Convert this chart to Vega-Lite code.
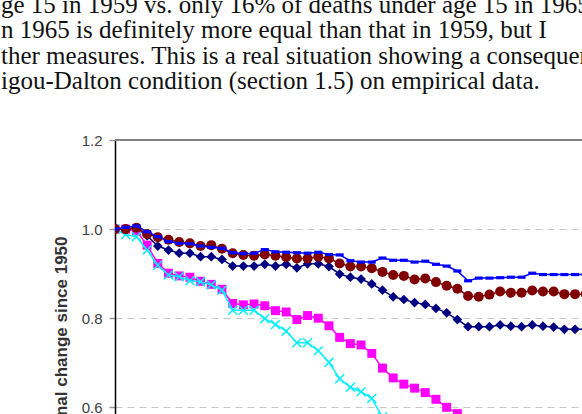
{
  "$schema": "https://vega.github.io/schema/vega-lite/v6.json",
  "width": 467,
  "height": 274,
  "autosize": {"type": "none"},
  "padding": {"left": 115, "top": 140, "right": 0, "bottom": 0},
  "background": "white",
  "title": {
    "text": [
      "ge 15 in 1959 vs. only 16% of deaths under age 15 in 1965",
      "n 1965 is definitely more equal than that in 1959, but I",
      "ther measures. This is a real situation showing a consequence of",
      "igou-Dalton condition (section 1.5) on empirical data."
    ],
    "orient": "top",
    "anchor": "start",
    "frame": "group",
    "font": "Liberation Serif",
    "fontSize": 25,
    "fontWeight": "normal",
    "color": "#111111",
    "lineHeight": 25.5,
    "baseline": "alphabetic",
    "offset": 0,
    "dx": -114,
    "dy": -19
  },
  "config": {"view": {"stroke": null}, "font": "Liberation Sans"},
  "datasets": {
    "navy": [
      {"year": 1950, "v": 1.0}, {"year": 1951, "v": 1.0}, {"year": 1952, "v": 1.002}, {"year": 1953, "v": 0.985},
      {"year": 1954, "v": 0.962}, {"year": 1955, "v": 0.953}, {"year": 1956, "v": 0.946}, {"year": 1957, "v": 0.946},
      {"year": 1958, "v": 0.938}, {"year": 1959, "v": 0.938}, {"year": 1960, "v": 0.932}, {"year": 1961, "v": 0.917},
      {"year": 1962, "v": 0.917}, {"year": 1963, "v": 0.917}, {"year": 1964, "v": 0.921}, {"year": 1965, "v": 0.917},
      {"year": 1966, "v": 0.921}, {"year": 1967, "v": 0.913}, {"year": 1968, "v": 0.922}, {"year": 1969, "v": 0.922},
      {"year": 1970, "v": 0.916}, {"year": 1971, "v": 0.899}, {"year": 1972, "v": 0.892}, {"year": 1973, "v": 0.888},
      {"year": 1974, "v": 0.877}, {"year": 1975, "v": 0.863}, {"year": 1976, "v": 0.848}, {"year": 1977, "v": 0.842},
      {"year": 1978, "v": 0.835}, {"year": 1979, "v": 0.831}, {"year": 1980, "v": 0.822}, {"year": 1981, "v": 0.812},
      {"year": 1982, "v": 0.797}, {"year": 1983, "v": 0.781}, {"year": 1984, "v": 0.781}, {"year": 1985, "v": 0.781},
      {"year": 1986, "v": 0.785}, {"year": 1987, "v": 0.782}, {"year": 1988, "v": 0.781}, {"year": 1989, "v": 0.785},
      {"year": 1990, "v": 0.782}, {"year": 1991, "v": 0.780}, {"year": 1992, "v": 0.775}, {"year": 1993, "v": 0.775},
      {"year": 1994, "v": 0.775}
    ],
    "magenta": [
      {"year": 1950, "v": 1.0}, {"year": 1951, "v": 1.0}, {"year": 1952, "v": 0.996}, {"year": 1953, "v": 0.964},
      {"year": 1954, "v": 0.923}, {"year": 1955, "v": 0.901}, {"year": 1956, "v": 0.895}, {"year": 1957, "v": 0.892},
      {"year": 1958, "v": 0.883}, {"year": 1959, "v": 0.876}, {"year": 1960, "v": 0.865}, {"year": 1961, "v": 0.833},
      {"year": 1962, "v": 0.830}, {"year": 1963, "v": 0.832}, {"year": 1964, "v": 0.828}, {"year": 1965, "v": 0.817},
      {"year": 1966, "v": 0.814}, {"year": 1967, "v": 0.797}, {"year": 1968, "v": 0.806}, {"year": 1969, "v": 0.800},
      {"year": 1970, "v": 0.783}, {"year": 1971, "v": 0.757}, {"year": 1972, "v": 0.743}, {"year": 1973, "v": 0.740},
      {"year": 1974, "v": 0.721}, {"year": 1975, "v": 0.688}, {"year": 1976, "v": 0.666}, {"year": 1977, "v": 0.652},
      {"year": 1978, "v": 0.643}, {"year": 1979, "v": 0.633}, {"year": 1980, "v": 0.618}, {"year": 1981, "v": 0.600},
      {"year": 1982, "v": 0.586}, {"year": 1983, "v": 0.570}
    ],
    "cyan": [
      {"year": 1950, "v": 1.0}, {"year": 1951, "v": 0.988}, {"year": 1952, "v": 0.983}, {"year": 1953, "v": 0.953},
      {"year": 1954, "v": 0.919}, {"year": 1955, "v": 0.897}, {"year": 1956, "v": 0.893}, {"year": 1957, "v": 0.884},
      {"year": 1958, "v": 0.882}, {"year": 1959, "v": 0.875}, {"year": 1960, "v": 0.863}, {"year": 1961, "v": 0.818},
      {"year": 1962, "v": 0.818}, {"year": 1963, "v": 0.818}, {"year": 1964, "v": 0.799}, {"year": 1965, "v": 0.786},
      {"year": 1966, "v": 0.771}, {"year": 1967, "v": 0.745}, {"year": 1968, "v": 0.745}, {"year": 1969, "v": 0.727},
      {"year": 1970, "v": 0.701}, {"year": 1971, "v": 0.664}, {"year": 1972, "v": 0.645}, {"year": 1973, "v": 0.635},
      {"year": 1974, "v": 0.620}, {"year": 1975, "v": 0.578}
    ],
    "maroon": [
      {"year": 1950, "v": 1.0}, {"year": 1951, "v": 1.0}, {"year": 1952, "v": 1.003}, {"year": 1953, "v": 0.989},
      {"year": 1954, "v": 0.982}, {"year": 1955, "v": 0.976}, {"year": 1956, "v": 0.971}, {"year": 1957, "v": 0.968},
      {"year": 1958, "v": 0.962}, {"year": 1959, "v": 0.964}, {"year": 1960, "v": 0.956}, {"year": 1961, "v": 0.946},
      {"year": 1962, "v": 0.942}, {"year": 1963, "v": 0.940}, {"year": 1964, "v": 0.943}, {"year": 1965, "v": 0.940},
      {"year": 1966, "v": 0.937}, {"year": 1967, "v": 0.934}, {"year": 1968, "v": 0.934}, {"year": 1969, "v": 0.938},
      {"year": 1970, "v": 0.934}, {"year": 1971, "v": 0.923}, {"year": 1972, "v": 0.916}, {"year": 1973, "v": 0.916},
      {"year": 1974, "v": 0.912}, {"year": 1975, "v": 0.904}, {"year": 1976, "v": 0.897}, {"year": 1977, "v": 0.895},
      {"year": 1978, "v": 0.887}, {"year": 1979, "v": 0.889}, {"year": 1980, "v": 0.881}, {"year": 1981, "v": 0.873},
      {"year": 1982, "v": 0.866}, {"year": 1983, "v": 0.850}, {"year": 1984, "v": 0.848}, {"year": 1985, "v": 0.853},
      {"year": 1986, "v": 0.860}, {"year": 1987, "v": 0.857}, {"year": 1988, "v": 0.857}, {"year": 1989, "v": 0.862},
      {"year": 1990, "v": 0.860}, {"year": 1991, "v": 0.860}, {"year": 1992, "v": 0.854}, {"year": 1993, "v": 0.854},
      {"year": 1994, "v": 0.854}
    ],
    "blue": [
      {"year": 1950, "v": 1.0}, {"year": 1951, "v": 1.004}, {"year": 1952, "v": 1.007}, {"year": 1953, "v": 0.994},
      {"year": 1954, "v": 0.983}, {"year": 1955, "v": 0.972}, {"year": 1956, "v": 0.968}, {"year": 1957, "v": 0.967},
      {"year": 1958, "v": 0.962}, {"year": 1959, "v": 0.959}, {"year": 1960, "v": 0.957}, {"year": 1961, "v": 0.947},
      {"year": 1962, "v": 0.945}, {"year": 1963, "v": 0.946}, {"year": 1964, "v": 0.954}, {"year": 1965, "v": 0.949},
      {"year": 1966, "v": 0.948}, {"year": 1967, "v": 0.947}, {"year": 1968, "v": 0.946}, {"year": 1969, "v": 0.948},
      {"year": 1970, "v": 0.943}, {"year": 1971, "v": 0.942}, {"year": 1972, "v": 0.929}, {"year": 1973, "v": 0.926},
      {"year": 1974, "v": 0.926}, {"year": 1975, "v": 0.935}, {"year": 1976, "v": 0.930}, {"year": 1977, "v": 0.930},
      {"year": 1978, "v": 0.926}, {"year": 1979, "v": 0.928}, {"year": 1980, "v": 0.921}, {"year": 1981, "v": 0.917},
      {"year": 1982, "v": 0.906}, {"year": 1983, "v": 0.884}, {"year": 1984, "v": 0.890}, {"year": 1985, "v": 0.890},
      {"year": 1986, "v": 0.891}, {"year": 1987, "v": 0.892}, {"year": 1988, "v": 0.892}, {"year": 1989, "v": 0.901},
      {"year": 1990, "v": 0.898}, {"year": 1991, "v": 0.898}, {"year": 1992, "v": 0.898}, {"year": 1993, "v": 0.898},
      {"year": 1994, "v": 0.898}
    ],
    "frame": [{"top": 1.2}]
  },
  "encoding": {
    "y": {
      "type": "quantitative",
      "scale": {"domain": [0.585, 1.2], "nice": false, "zero": false},
      "axis": {
        "values": [0.6, 0.8, 1.0, 1.2],
        "format": ".1f",
        "title": "Proportional change since 1950",
        "titleFont": "Liberation Sans",
        "titleFontSize": 17,
        "titleFontWeight": "bold",
        "titleColor": "#333333",
        "titleY": 224,
        "titlePadding": 11,
        "labelFont": "Liberation Sans",
        "labelFontSize": 15,
        "labelColor": "#404040",
        "labelPadding": 7,
        "tickSize": 6,
        "tickColor": "#999999",
        "tickWidth": 1.5,
        "domainColor": "#000000",
        "domainWidth": 1.5,
        "grid": true,
        "gridColor": "#c8c8c8",
        "gridDash": [7, 5],
        "gridWidth": 1.2
      }
    }
  },
  "layer": [
    {
      "data": {"name": "frame"},
      "mark": {"type": "rule", "color": "#808080", "strokeWidth": 2},
      "encoding": {"y": {"field": "top", "type": "quantitative"}}
    },
    {
      "data": {"name": "navy"},
      "mark": {"type": "line", "color": "#000080", "strokeWidth": 1.5, "clip": true,
               "point": {"shape": "diamond", "size": 95, "filled": true, "color": "#000080", "opacity": 1}},
      "encoding": {
        "x": {"field": "year", "type": "quantitative", "scale": {"domain": [1950, 1993.65], "nice": false, "zero": false}, "axis": null},
        "y": {"field": "v", "type": "quantitative"}
      }
    },
    {
      "data": {"name": "magenta"},
      "mark": {"type": "line", "color": "#ff00ff", "strokeWidth": 1.5, "clip": true,
               "point": {"shape": "square", "size": 80, "filled": true, "color": "#ff00ff", "opacity": 1}},
      "encoding": {
        "x": {"field": "year", "type": "quantitative"},
        "y": {"field": "v", "type": "quantitative"}
      }
    },
    {
      "data": {"name": "cyan"},
      "mark": {"type": "line", "color": "#00f0ff", "strokeWidth": 1.5, "clip": true,
               "point": {"shape": "M-1,-1L1,1M-1,1L1,-1", "size": 80, "filled": false, "strokeWidth": 1.5, "color": "#00f0ff", "opacity": 1}},
      "encoding": {
        "x": {"field": "year", "type": "quantitative"},
        "y": {"field": "v", "type": "quantitative"}
      }
    },
    {
      "data": {"name": "maroon"},
      "mark": {"type": "line", "color": "#800000", "strokeWidth": 1.5, "clip": true,
               "point": {"shape": "circle", "size": 100, "filled": true, "color": "#800000", "opacity": 1}},
      "encoding": {
        "x": {"field": "year", "type": "quantitative"},
        "y": {"field": "v", "type": "quantitative"}
      }
    },
    {
      "data": {"name": "blue"},
      "mark": {"type": "line", "color": "#0000ff", "strokeWidth": 1.5, "clip": true,
               "point": {"shape": "M-1,-0.4L1,-0.4L1,0.4L-1,0.4Z", "size": 64, "filled": true, "color": "#0000ff", "opacity": 1}},
      "encoding": {
        "x": {"field": "year", "type": "quantitative"},
        "y": {"field": "v", "type": "quantitative"}
      }
    }
  ]
}
